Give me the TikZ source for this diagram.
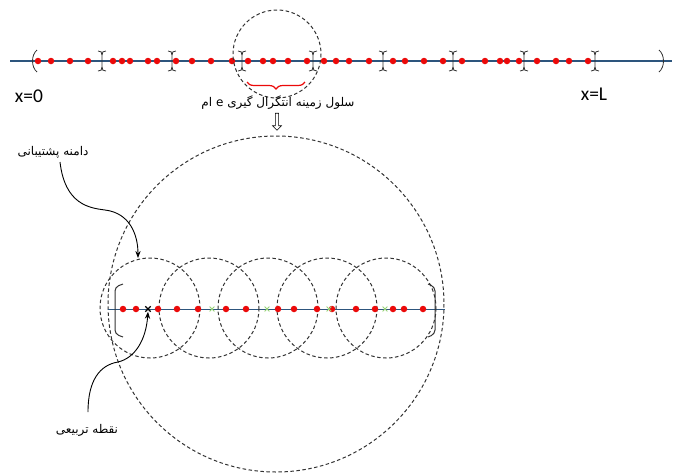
\documentclass[tikz,border=0pt]{standalone}
\usepackage{fontspec}
\setmainfont{Carlito}
\newfontfamily\farsifont[Script=Arabic]{DejaVu Sans}
\TeXXeTstate=1
\usetikzlibrary{arrows.meta,positioning,shapes.misc,shapes.arrows,decorations.pathreplacing}
\definecolor{axisblue}{RGB}{45,85,125}
\definecolor{dotred}{RGB}{235,10,10}
\definecolor{qgreen}{RGB}{150,210,120}

\begin{document}
\begin{tikzpicture}[x=1pt, y=-1pt, >=Stealth,
  rdot/.style={circle, fill=dotred, inner sep=0pt, minimum size=6.5pt},
  dcirc/.style={draw=black!80, dash pattern=on 3.5pt off 2.5pt, line width=1pt},
  brk/.style={draw=black!80, line width=0.8pt},
  xmark/.style={cross out, draw, inner sep=0pt, minimum size=4pt},
  farsi/.style={font=\farsifont\fontsize{12}{14}\selectfont, inner sep=1pt},
  lbl/.style={font=\fontsize{19.5}{22}\selectfont, inner sep=1pt}]

  \useasboundingbox (0,0) rectangle (681,475);

  % Top axis with elements
  \coordinate (topL) at (10,61);
  \coordinate (topR) at (672,61);
  \draw[axisblue, line width=1.1pt] (topL) -- (topR);
  \draw[brk] (37,50) .. controls (31,55) and (31,67) .. (37,72);
  \draw[brk] (659,50) .. controls (665,55) and (665,67) .. (659,72);
  \foreach \x in {102,172,242,313,383,453,524,595} {
    \draw[brk] (\x-4,51) .. controls (\x-1,51) and (\x,52) .. (\x,55) -- (\x,67)
      .. controls (\x,70) and (\x-1,71) .. (\x-4,71);
    \draw[brk] (\x+4,51) .. controls (\x+1,51) and (\x,52) .. (\x,55)
      (\x,67) .. controls (\x,70) and (\x+1,71) .. (\x+4,71);
  }
  \foreach \x in {38,51,70,88,113,122,130,148,157,176,192,211,232,248,263,273,288,307,
                  324,336,349,369,393,405,424,443,462,485,500,507,519,537,556,569,588}
    \node[rdot] at (\x,61) {};

  \node[lbl] (x0) at (29,96) {x=0};
  \node[lbl] (xL) at (594,94) {x=L};

  % Selected cell
  \coordinate (cellc) at (277,54);
  \draw[dcirc] (cellc) circle (44);
  \coordinate (braceL) at (247,82);
  \coordinate (braceR) at (305,82);
  \draw[dotred, line width=1.2pt, decorate, decoration={brace, amplitude=7pt, mirror}]
    (braceL) -- (braceR);
  \node[farsi] (celltxt) at (278,103) {\beginR سلول زمینه انتگرال گیری e ام\endR};
  \node[single arrow, draw, shape border rotate=270, minimum height=17pt,
        minimum width=9pt, single arrow head extend=1.5pt, inner sep=0.5pt,
        line width=0.6pt] (zoomarr) at (277,121) {};

  % Enlarged cell
  \coordinate (bigc) at (276,304);
  \draw[dcirc] (bigc) circle (168);
  \coordinate (lowL) at (108,309);
  \coordinate (lowR) at (445,309);
  \draw[axisblue, line width=0.9pt] (lowL) -- (lowR);
  \foreach \c in {150,209,268,327,386}
    \draw[dcirc] (\c,308) circle (50);
  \draw[brk, line width=1pt, rounded corners=4pt] (123,284) -- (115,287) -- (115,334) -- (123,337);
  \draw[brk, line width=1pt, rounded corners=4pt] (428,284) -- (435,287) -- (435,334) -- (428,337);
  \foreach \x in {123,136,158,177,198,226,246,278,294,317,332,356,375,393,404,423}
    \node[rdot] at (\x,309) {};
  \foreach \x in {212,267,329,385}
    \node[xmark, draw=qgreen, line width=0.8pt] at (\x,309) {};
  \node[xmark, line width=1.4pt] (qpt) at (148,309) {};

  % Labels with arrows
  \node[farsi] (supp) at (53,152) {\beginR دامنه پشتیبانی\endR};
  \node[farsi] (quad) at (87,430) {\beginR نقطه تربیعی\endR};
  \coordinate (supptip) at (138,258);
  \draw[->, line width=0.9pt] (60,162) .. controls (65,205) and (90,208) .. (105,210)
    .. controls (130,213) and (138,235) .. (supptip);
  \draw[->, line width=0.9pt] (88,412) .. controls (88,380) and (100,365) .. (118,362)
    .. controls (135,358) and (146,340) .. (qpt.south);
\end{tikzpicture}
\end{document}
